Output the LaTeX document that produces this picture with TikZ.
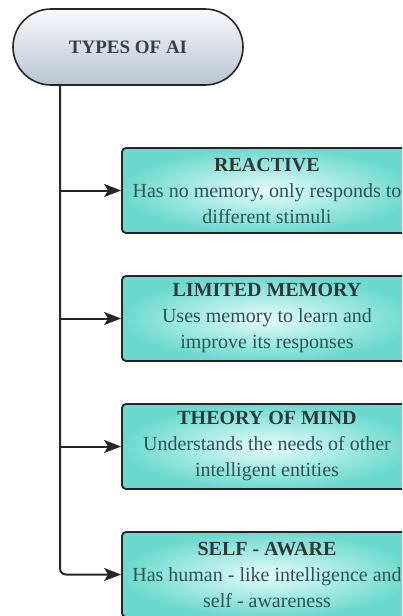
\documentclass[tikz,border=0pt]{standalone}
\usepackage{fontspec}
\setmainfont{Liberation Serif}
\newfontfamily\aiserif{Liberation Serif}
\usetikzlibrary{arrows.meta,positioning}
\definecolor{aiink}{HTML}{262626}
\definecolor{pilltop}{HTML}{F8FAFC}
\definecolor{pillbot}{HTML}{B9C3D0}
\definecolor{pilltext}{HTML}{3B4048}
\definecolor{tealedge}{HTML}{6CD9CF}
\definecolor{tealcore}{HTML}{E6FCF9}
\definecolor{headgray}{HTML}{2E3838}
\definecolor{bodyteal}{HTML}{2B5555}
\tikzset{
  % titel
  pill/.style={draw=aiink,line width=1.6pt,rounded corners=38pt,
               top color=pilltop,bottom color=pillbot,minimum width=230pt,
               minimum height=76pt,text=pilltext,
               font=\aiserif\fontsize{19}{23}\selectfont\bfseries},
  % typer
  kind/.style={draw=aiink,line width=1.8pt,rounded corners=4pt,
               inner color=tealcore,outer color=tealedge,minimum width=290pt,
               minimum height=85pt,inner sep=0pt,align=center,text=bodyteal,
               font=\aiserif\fontsize{20}{26}\selectfont},
  link/.style={-{Stealth[length=17pt,width=13pt,inset=4pt]},draw=aiink,
               line width=2pt},
}
\newcommand{\kindhead}[1]{\textcolor{headgray}{\bfseries #1}}

\begin{document}
\begin{tikzpicture}[x=1pt,y=-1pt]
  \clip (0,0) rectangle (402,616);
  \node[pill] (types) at (128,47) {TYPES OF AI};
  \node[kind] (reactive) at (267,190.5)
    {\kindhead{REACTIVE}\\Has no memory, only responds to\\different stimuli};
  \node[kind] (limited) at (267,318.5)
    {\kindhead{LIMITED MEMORY}\\Uses memory to learn and\\improve its responses};
  \node[kind] (theory) at (267,446.5)
    {\kindhead{THEORY OF MIND}\\Understands the needs of other\\intelligent entities};
  \node[kind] (selfaware) at (267,574.5)
    {\kindhead{SELF - AWARE}\\Has human - like intelligence and\\self - awareness};
  \coordinate (stem) at (60,85);
  \draw[link] (stem) |- (reactive);
  \draw[link] (stem) |- (limited);
  \draw[link] (stem) |- (theory);
  \draw[link,rounded corners=6pt] (stem) |- (selfaware);
\end{tikzpicture}
\end{document}
